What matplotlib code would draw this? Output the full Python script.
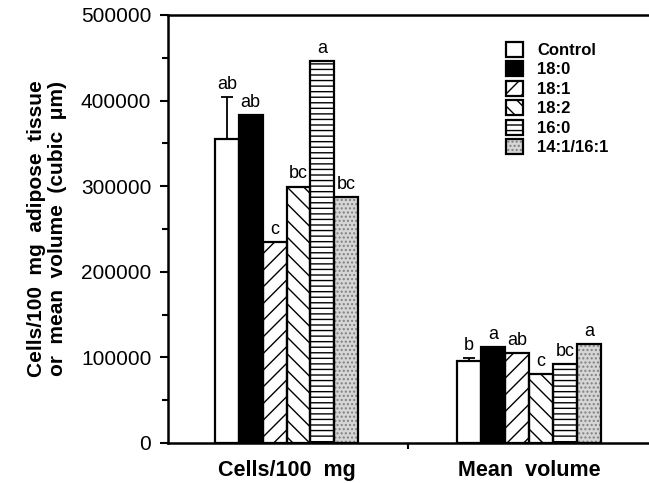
import matplotlib.pyplot as plt
from matplotlib.patches import Patch
import numpy as np

plt.rcParams['font.family'] = ['Liberation Sans', 'DejaVu Sans']
plt.rcParams['hatch.linewidth'] = 1.0

groups = ['Cells/100  mg', 'Mean  volume']
treatments = ['Control', '18:0', '18:1', '18:2', '16:0', '14:1/16:1']

cells = [355000, 383000, 234500, 299500, 446500, 287000]
volume = [95500, 112000, 105500, 80500, 92000, 115500]
cells_letters = ['ab', 'ab', 'c', 'bc', 'a', 'bc']
volume_letters = ['b', 'a', 'ab', 'c', 'bc', 'a']
# only the control bars show an error bar (upper part)
control_err = [49000, 3500]

faces = ['white', 'black', 'white', 'white', 'white', '#d6d6d6']
hatches = [None, None, '//', '\\\\', '---', '....']
hatch_cols = ['black', 'black', 'black', 'black', 'black', '#808080']

fig = plt.figure(figsize=(6.49, 4.83), dpi=100)
ax = fig.add_axes([168 / 649, 40 / 483, 481 / 649, 428 / 483])

centers = np.array([1, 2])
width = 0.0986
values = [cells, volume]
letters = [cells_letters, volume_letters]

for g in range(2):
    for i in range(6):
        x = centers[g] + (i - 2.5) * width
        v = values[g][i]
        # fill + hatch layer
        ax.bar(x, v, width, color=faces[i], edgecolor=hatch_cols[i],
               hatch=hatches[i], linewidth=0, zorder=2)
        # outline layer
        ax.bar(x, v, width, fill=False, edgecolor='black', linewidth=1.6, zorder=3)
        top = v
        if i == 0:
            ax.errorbar(x, v, yerr=[[0], [control_err[g]]], fmt='none', ecolor='black',
                        elinewidth=1.3, capsize=4, capthick=1.3, zorder=4)
            top = v + control_err[g]
        ax.annotate(letters[g][i], (x, top), xytext=(0, 3), textcoords='offset points',
                    ha='center', va='bottom', fontsize=13)

ax.set_xlim(0.511, 2.495)
ax.set_ylim(0, 500000)
ax.set_xticks([1.5])
ax.set_xticklabels([''])
ax.tick_params(axis='x', direction='out', length=4, width=1.5)
ax.set_yticks(np.arange(0, 500001, 100000))
ax.set_yticks(np.arange(50000, 500000, 100000), minor=True)
ax.tick_params(axis='y', which='major', direction='out', length=6, width=1.5,
               labelsize=15, pad=6)
ax.tick_params(axis='y', which='minor', direction='out', length=4.5, width=1.5)

for g in range(2):
    ax.text(centers[g], -0.04, groups[g], transform=ax.get_xaxis_transform(),
            ha='center', va='top', fontsize=15.5, fontweight='bold')

ax.set_ylabel('Cells/100  mg  adipose  tissue\nor  mean  volume  (cubic  \u03bcm)',
              fontsize=15, fontweight='bold', linespacing=1.15, labelpad=10)

ax.spines['right'].set_visible(False)
for s in ['left', 'bottom', 'top']:
    ax.spines[s].set_linewidth(1.8)

handles = []
for i in range(6):
    fill = Patch(facecolor=faces[i], edgecolor=hatch_cols[i], hatch=hatches[i], linewidth=0)
    edge = Patch(fill=False, edgecolor='black', linewidth=1.6)
    handles.append((fill, edge))
ax.legend(handles, treatments, loc='upper left', bbox_to_anchor=(0.686, 0.957),
          frameon=False, borderpad=0, handlelength=1.0, handleheight=1.0,
          labelspacing=0.2, handletextpad=0.85, prop={'weight': 'bold', 'size': 12})

fig.savefig('out.png', dpi=100)
